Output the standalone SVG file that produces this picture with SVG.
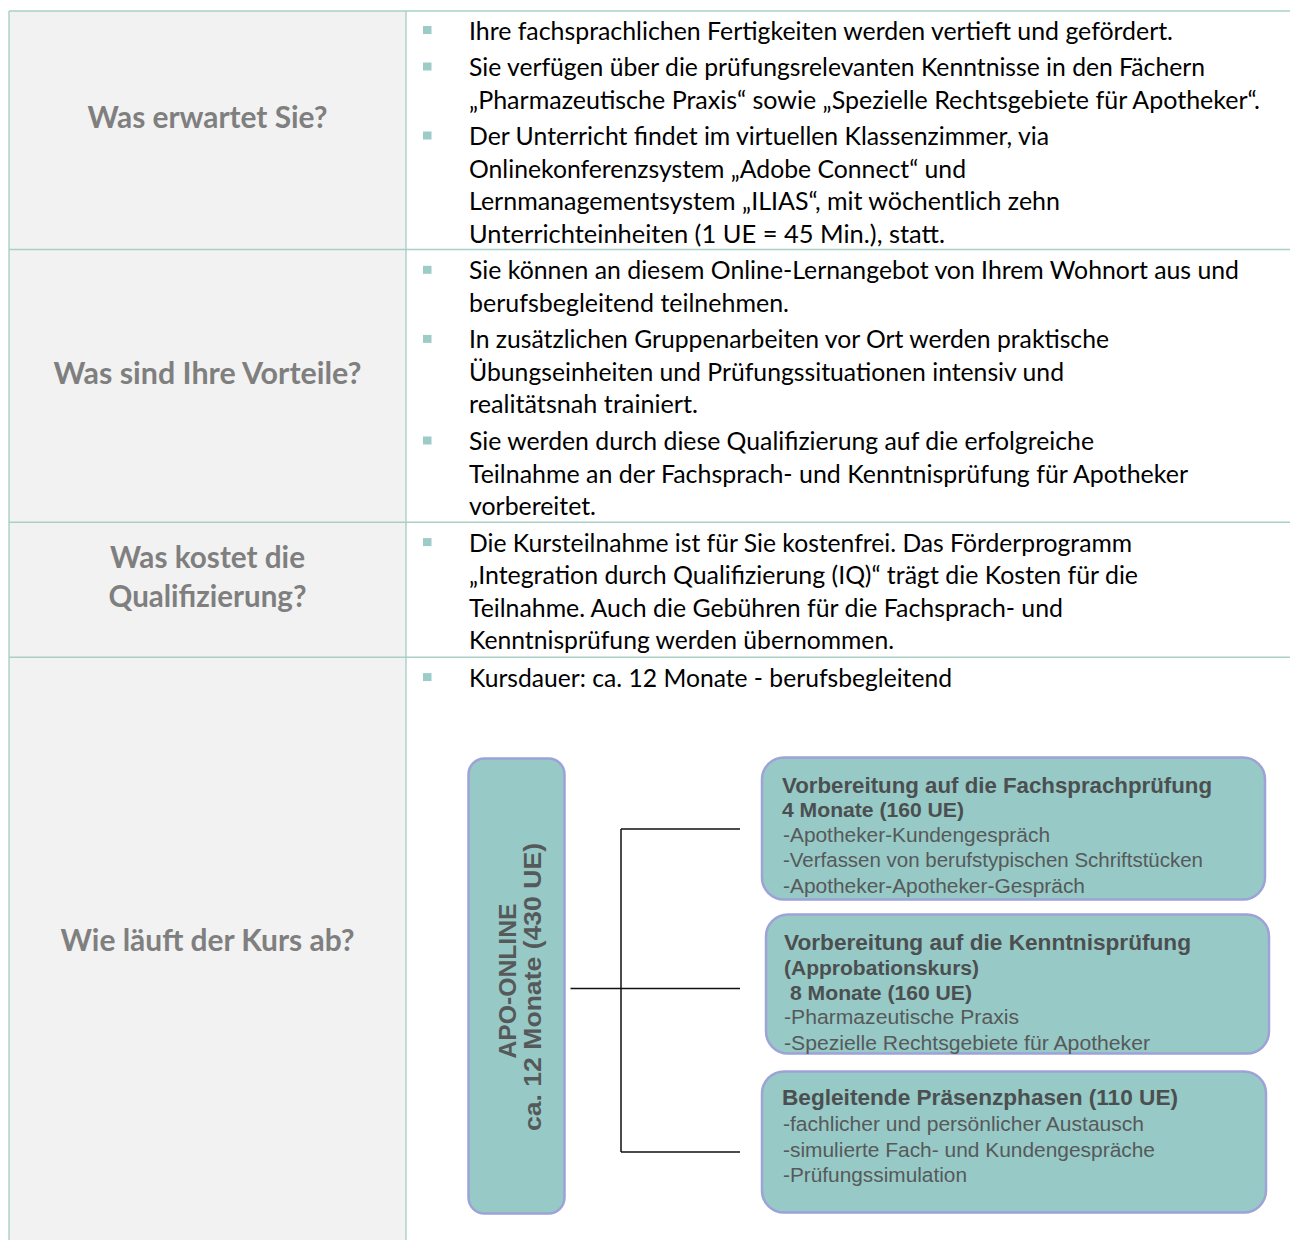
<svg xmlns="http://www.w3.org/2000/svg" width="1290" height="1240" viewBox="0 0 1290 1240">
<style>
.body{font-family:Lato,"Open Sans","Liberation Sans",sans-serif;font-size:25px;fill:#000}
.lbl{font-family:Lato,"Open Sans","Liberation Sans",sans-serif;font-size:29.5px;font-weight:bold;fill:#7f7f7f}
.bul{fill:#9ccbc8}
.grid{stroke:#a9d0c7;stroke-width:1.4;fill:none}
.box{fill:#97c9c6;stroke:#9da3d6;stroke-width:2.5}
.bt{font-family:"Liberation Sans",Arial,sans-serif;font-weight:bold;font-size:22px;fill:#4b4f50}
.bs{font-family:"Liberation Sans",Arial,sans-serif;font-weight:bold;font-size:19.5px;fill:#4b4f50}
.br{font-family:"Liberation Sans",Arial,sans-serif;font-size:20.5px;fill:#56595a}
.vt{font-family:"Liberation Sans",Arial,sans-serif;font-weight:bold;font-size:24px;fill:#56595a}
.conn{stroke:#111;stroke-width:1.5;fill:none}
</style>
<g id="table">
<rect x="9" y="11" width="397" height="1229" fill="#f2f2f2"/>
<path class="grid" d="M9 11V1240M406 11V1240M9 11H1290M9 249.5H1290M9 522.3H1290M9 657.3H1290"/>
</g>
<g id="row1">
<text class="lbl" x="207.5" y="128" text-anchor="middle" textLength="240" lengthAdjust="spacingAndGlyphs">Was erwartet Sie?</text>
<rect class="bul" x="423" y="26" width="8.5" height="8"/>
<rect class="bul" x="423" y="62.5" width="8.5" height="8"/>
<rect class="bul" x="423" y="131.5" width="8.5" height="8"/>
<text class="body" x="469" y="39.5" textLength="704" lengthAdjust="spacingAndGlyphs">Ihre fachsprachlichen Fertigkeiten werden vertieft und gefördert.</text>
<text class="body" x="469" y="76" textLength="736" lengthAdjust="spacingAndGlyphs">Sie verfügen über die prüfungsrelevanten Kenntnisse in den Fächern</text>
<text class="body" x="469" y="108.5" textLength="791" lengthAdjust="spacingAndGlyphs">„Pharmazeutische Praxis“ sowie „Spezielle Rechtsgebiete für Apotheker“.</text>
<text class="body" x="469" y="145" textLength="580" lengthAdjust="spacingAndGlyphs">Der Unterricht findet im virtuellen Klassenzimmer, via</text>
<text class="body" x="469" y="177.5" textLength="497" lengthAdjust="spacingAndGlyphs">Onlinekonferenzsystem „Adobe Connect“ und</text>
<text class="body" x="469" y="210" textLength="591" lengthAdjust="spacingAndGlyphs">Lernmanagementsystem „ILIAS“, mit wöchentlich zehn</text>
<text class="body" x="469" y="242.5" textLength="476" lengthAdjust="spacingAndGlyphs">Unterrichteinheiten (1 UE = 45 Min.), statt.</text>
</g>
<g id="row2">
<text class="lbl" x="207.5" y="383.5" text-anchor="middle" textLength="308" lengthAdjust="spacingAndGlyphs">Was sind Ihre Vorteile?</text>
<rect class="bul" x="423" y="265.8" width="8.5" height="8"/>
<rect class="bul" x="423" y="334.9" width="8.5" height="8"/>
<rect class="bul" x="423" y="436.5" width="8.5" height="8"/>
<text class="body" x="469" y="279.3" textLength="770" lengthAdjust="spacingAndGlyphs">Sie können an diesem Online-Lernangebot von Ihrem Wohnort aus und</text>
<text class="body" x="469" y="311.8" textLength="320" lengthAdjust="spacingAndGlyphs">berufsbegleitend teilnehmen.</text>
<text class="body" x="469" y="348.4" textLength="640" lengthAdjust="spacingAndGlyphs">In zusätzlichen Gruppenarbeiten vor Ort werden praktische</text>
<text class="body" x="469" y="380.9" textLength="595" lengthAdjust="spacingAndGlyphs">Übungseinheiten und Prüfungssituationen intensiv und</text>
<text class="body" x="469" y="413.4" textLength="229" lengthAdjust="spacingAndGlyphs">realitätsnah trainiert.</text>
<text class="body" x="469" y="450" textLength="625" lengthAdjust="spacingAndGlyphs">Sie werden durch diese Qualifizierung auf die erfolgreiche</text>
<text class="body" x="469" y="482.5" textLength="719" lengthAdjust="spacingAndGlyphs">Teilnahme an der Fachsprach- und Kenntnisprüfung für Apotheker</text>
<text class="body" x="469" y="515" textLength="127" lengthAdjust="spacingAndGlyphs">vorbereitet.</text>
</g>
<g id="row3">
<text class="lbl" x="207.5" y="568" text-anchor="middle" textLength="195" lengthAdjust="spacingAndGlyphs">Was kostet die</text>
<text class="lbl" x="207.5" y="607" text-anchor="middle" textLength="198" lengthAdjust="spacingAndGlyphs">Qualifizierung?</text>
<rect class="bul" x="423" y="538.1" width="8.5" height="8"/>
<text class="body" x="469" y="551.6" textLength="663" lengthAdjust="spacingAndGlyphs">Die Kursteilnahme ist für Sie kostenfrei. Das Förderprogramm</text>
<text class="body" x="469" y="584.1" textLength="669" lengthAdjust="spacingAndGlyphs">„Integration durch Qualifizierung (IQ)“ trägt die Kosten für die</text>
<text class="body" x="469" y="616.6" textLength="594" lengthAdjust="spacingAndGlyphs">Teilnahme. Auch die Gebühren für die Fachsprach- und</text>
<text class="body" x="469" y="649.1" textLength="425" lengthAdjust="spacingAndGlyphs">Kenntnisprüfung werden übernommen.</text>
</g>
<g id="row4">
<text class="lbl" x="207.5" y="951" text-anchor="middle" textLength="294" lengthAdjust="spacingAndGlyphs">Wie läuft der Kurs ab?</text>
<rect class="bul" x="423" y="673.1" width="8.5" height="8"/>
<text class="body" x="469" y="686.6" textLength="483" lengthAdjust="spacingAndGlyphs">Kursdauer: ca. 12 Monate - berufsbegleitend</text>
</g>
<g id="connectors">
<path class="conn" d="M621 829V1152M621 829H740M570.5 988.5H740M621 1152H740"/>
</g>
<g id="apo-online">
<rect class="box" x="468.5" y="758.5" width="96" height="455" rx="16"/>
<text class="vt" transform="translate(516,981) rotate(-90)" text-anchor="middle" textLength="155" lengthAdjust="spacingAndGlyphs">APO-ONLINE</text>
<text class="vt" transform="translate(541,987) rotate(-90)" text-anchor="middle" textLength="288" lengthAdjust="spacingAndGlyphs">ca.  12 Monate (430 UE)</text>
</g>
<g id="fachsprachpruefung">
<rect class="box" x="762" y="757.5" width="503" height="142" rx="22"/>
<text class="bt" x="782" y="793" textLength="430" lengthAdjust="spacingAndGlyphs">Vorbereitung auf die Fachsprachprüfung</text>
<text class="bs" x="782" y="817" textLength="182" lengthAdjust="spacingAndGlyphs">4 Monate (160 UE)</text>
<text class="br" x="783" y="842" textLength="267" lengthAdjust="spacingAndGlyphs">-Apotheker-Kundengespräch</text>
<text class="br" x="783" y="867" textLength="420" lengthAdjust="spacingAndGlyphs">-Verfassen von berufstypischen Schriftstücken</text>
<text class="br" x="783" y="893" textLength="302" lengthAdjust="spacingAndGlyphs">-Apotheker-Apotheker-Gespräch</text>
</g>
<g id="kenntnispruefung">
<rect class="box" x="766" y="914.5" width="503" height="139" rx="22"/>
<text class="bt" x="784" y="950" textLength="407" lengthAdjust="spacingAndGlyphs">Vorbereitung auf die Kenntnisprüfung</text>
<text class="bs" x="784" y="975" textLength="195" lengthAdjust="spacingAndGlyphs">(Approbationskurs)</text>
<text class="bs" x="790" y="999.5" textLength="182" lengthAdjust="spacingAndGlyphs">8 Monate (160 UE)</text>
<text class="br" x="784" y="1024" textLength="235" lengthAdjust="spacingAndGlyphs">-Pharmazeutische Praxis</text>
<text class="br" x="784" y="1050" textLength="366" lengthAdjust="spacingAndGlyphs">-Spezielle Rechtsgebiete für Apotheker</text>
</g>
<g id="praesenzphasen">
<rect class="box" x="762" y="1071.5" width="504" height="141" rx="22"/>
<text class="bt" x="782" y="1105" textLength="396" lengthAdjust="spacingAndGlyphs">Begleitende Präsenzphasen (110 UE)</text>
<text class="br" x="783" y="1131" textLength="361" lengthAdjust="spacingAndGlyphs">-fachlicher und persönlicher Austausch</text>
<text class="br" x="783" y="1157" textLength="372" lengthAdjust="spacingAndGlyphs">-simulierte Fach- und Kundengespräche</text>
<text class="br" x="783" y="1182" textLength="184" lengthAdjust="spacingAndGlyphs">-Prüfungssimulation</text>
</g>
</svg>
